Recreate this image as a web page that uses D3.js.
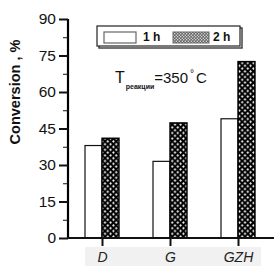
<!DOCTYPE html>
<html>
<head>
<meta charset="utf-8">
<script src="https://cdn.jsdelivr.net/npm/d3@7"></script>
<style>
body { margin: 0; background: #fff; }
text { font-family: Arial, "Liberation Sans", sans-serif; }
</style>
</head>
<body>
<script>
var categories = ["D", "G", "GZH"];
var values1h = [38, 31.5, 49];
var values2h = [41, 47.3, 72.5];
var yTicks = [0, 15, 30, 45, 60, 75, 90];
var yMinor = [7.5, 22.5, 37.5, 52.5, 67.5, 82.5];
var seriesNames = ["1 h", "2 h"];

var w = 276, h = 266;

var svg = d3.select("body")
            .append("svg")
            .attr("width", w)
            .attr("height", h);

var defs = svg.append("defs");

// crosshatch like the original (black with white diamond holes)
var pat = defs.append("pattern")
              .attr("id", "hatch")
              .attr("patternUnits", "userSpaceOnUse")
              .attr("width", 5.6)
              .attr("height", 5.6);
pat.append("rect").attr("width", 5.6).attr("height", 5.6).attr("fill", "#000");
pat.append("path").attr("d", "M1.4,0.1L2.7,1.4L1.4,2.7L0.1,1.4Z").attr("fill", "#fff");
pat.append("path").attr("d", "M4.2,2.9L5.5,4.2L4.2,5.5L2.9,4.2Z").attr("fill", "#fff");

var patSmall = defs.append("pattern")
              .attr("id", "hatchSmall")
              .attr("patternUnits", "userSpaceOnUse")
              .attr("width", 3)
              .attr("height", 3);
patSmall.append("rect").attr("width", 3).attr("height", 3).attr("fill", "#666");
patSmall.append("circle").attr("cx", 0.75).attr("cy", 0.75).attr("r", 0.7).attr("fill", "#eee");
patSmall.append("circle").attr("cx", 2.25).attr("cy", 2.25).attr("r", 0.7).attr("fill", "#eee");

// faint grey band behind category labels
svg.append("rect")
   .attr("x", 85).attr("y", 247)
   .attr("width", 176).attr("height", 19)
   .attr("fill", "#f1f1f1");

var xScale = d3.scalePoint()
               .domain(categories)
               .range([102, 238]);

var yScale = d3.scaleLinear()
               .domain([0, 90])
               .range([238, 19]);

var barW = 17;

var barGroup = svg.append("g");

barGroup.selectAll("rect.b1")
        .data(values1h)
        .enter()
        .append("rect")
        .attr("class", "b1")
        .attr("x", (d, i) => xScale(categories[i]) - barW)
        .attr("y", d => yScale(d))
        .attr("width", barW)
        .attr("height", d => yScale(0) - yScale(d))
        .attr("fill", "#fff")
        .attr("stroke", "#111")
        .attr("stroke-width", 1.2);

barGroup.selectAll("rect.b2")
        .data(values2h)
        .enter()
        .append("rect")
        .attr("class", "b2")
        .attr("x", (d, i) => xScale(categories[i]))
        .attr("y", d => yScale(d))
        .attr("width", barW)
        .attr("height", d => yScale(0) - yScale(d))
        .attr("fill", "url(#hatch)")
        .attr("stroke", "#000")
        .attr("stroke-width", 1.4);

// y axis
var yAxis = d3.axisLeft()
              .scale(yScale)
              .tickValues(yTicks)
              .tickSize(9)
              .tickPadding(3);

var yMinorAxis = d3.axisLeft()
              .scale(yScale)
              .tickValues(yMinor)
              .tickSize(5)
              .tickFormat("");

var gy = svg.append("g")
            .attr("transform", "translate(68,0)")
            .call(yAxis);
svg.append("g")
   .attr("transform", "translate(68,0)")
   .call(yMinorAxis)
   .select(".domain").remove();

gy.select(".domain").attr("stroke-width", 2.2).attr("d", "M0," + yScale(90) + "V" + yScale(0));
gy.selectAll(".tick line").attr("stroke-width", 2);
gy.selectAll(".tick text")
  .attr("font-size", 15.5)
  .attr("fill", "#111");
svg.selectAll("g line").attr("stroke", "#111");

// x axis
var xAxis = d3.axisBottom()
              .scale(xScale)
              .tickSize(8)
              .tickPadding(6);

var gx = svg.append("g")
            .attr("transform", "translate(0,238)")
            .call(xAxis);
gx.select(".domain").attr("stroke-width", 2.2).attr("stroke", "#111").attr("d", "M67,0H274");
gx.selectAll(".tick line").attr("stroke-width", 2).attr("stroke", "#111");
gx.selectAll(".tick text")
  .attr("font-size", 14)
  .attr("font-style", "italic")
  .attr("fill", "#222");

// y label
svg.append("text")
   .attr("transform", "translate(20,92) rotate(-90)")
   .attr("text-anchor", "middle")
   .attr("font-size", 14.5)
   .attr("font-weight", "bold")
   .attr("fill", "#111")
   .text("Conversion , %");

// legend
var lg = svg.append("g");
lg.append("rect")
  .attr("x", 99).attr("y", 28)
  .attr("width", 143).attr("height", 20)
  .attr("fill", "none").attr("stroke", "#444").attr("stroke-width", 1.5);
lg.append("rect")
  .attr("x", 97).attr("y", 26)
  .attr("width", 143).attr("height", 20)
  .attr("fill", "#fff").attr("stroke", "#222").attr("stroke-width", 1.2);
lg.append("rect")
  .attr("x", 104).attr("y", 32)
  .attr("width", 32).attr("height", 11)
  .attr("fill", "#fff").attr("stroke", "#666").attr("stroke-width", 1.2);
lg.append("text")
  .attr("x", 143).attr("y", 41)
  .attr("font-size", 12).attr("font-weight", "bold").attr("fill", "#111")
  .text(seriesNames[0]);
lg.append("rect")
  .attr("x", 173).attr("y", 32)
  .attr("width", 36).attr("height", 11)
  .attr("fill", "url(#hatchSmall)").attr("stroke", "#666").attr("stroke-width", 1);
lg.append("text")
  .attr("x", 213).attr("y", 41)
  .attr("font-size", 12).attr("font-weight", "bold").attr("fill", "#111")
  .text(seriesNames[1]);

// temperature annotation
var ann = svg.append("text")
             .attr("x", 115).attr("y", 83)
             .attr("fill", "#111");
ann.append("tspan").attr("font-size", 16).text("T");
ann.append("tspan").attr("font-size", 7).attr("font-weight", "bold").attr("dy", 6).attr("dx", 1).text("реакции");
ann.append("tspan").attr("font-size", 15).attr("dy", -6).text("=350");
ann.append("tspan").attr("font-size", 10).attr("dy", -6).attr("dx", 2).text("°");
ann.append("tspan").attr("font-size", 15).attr("dy", 6).attr("dx", 2).text("C");
</script>
</body>
</html>
